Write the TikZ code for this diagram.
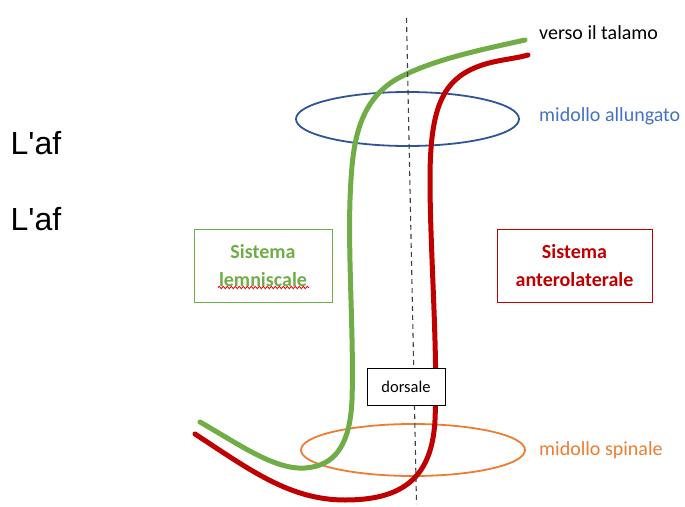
\documentclass[tikz,border=0pt]{standalone}
\usepackage{fontspec}
\setmainfont{Carlito}
\newfontfamily\arialf{Liberation Sans}
\usetikzlibrary{decorations.pathmorphing}
\definecolor{cgreen}{HTML}{70AD47}
\definecolor{cred}{HTML}{C00000}
\definecolor{cblue}{HTML}{4472C4}
\definecolor{cdblue}{HTML}{2F5597}
\definecolor{corange}{HTML}{ED7D31}
\definecolor{cgray}{HTML}{404040}
\tikzset{
  tract/.style={line width=5pt, line cap=round},
  ring/.style={line width=1.8pt},
  lbl/.style={anchor=west, inner sep=0pt, font=\fontsize{20}{24}\selectfont},
  sysbox/.style={draw, line width=1pt, minimum width=#1, minimum height=73pt, align=center, font=\fontsize{20}{28}\selectfont\bfseries},
  bigtxt/.style={anchor=west, inner sep=0pt, font=\arialf\fontsize{32}{36}\selectfont},
}
\begin{document}
\begin{tikzpicture}[x=1pt,y=-1pt]
\useasboundingbox (0,0) rectangle (685,506);
% left clipped text
\begin{scope}
\clip (0,100) rectangle (62,250);
\node[bigtxt] (af1) at (10.5,143) {L'af};
\node[bigtxt] (af2) at (10.5,219) {L'af};
\end{scope}
% rings
\draw[ring, cdblue] (407.5,119) ellipse [x radius=111.5, y radius=27];
\draw[ring, corange] (413,450) ellipse [x radius=112, y radius=26];
% tracts
\draw[tract, cgreen] (200,422) .. controls (240,445) and (275,470) .. (305,468)
  .. controls (335,466) and (350,445) .. (352,400)
  .. controls (354,340) and (348,260) .. (350,200)
  .. controls (352,150) and (355,105) .. (395,80)
  .. controls (430,60) and (480,50) .. (525,40);
\draw[tract, cred] (195,434) .. controls (250,470) and (290,500) .. (345,500)
  .. controls (400,500) and (432,480) .. (435,420)
  .. controls (438,350) and (430,250) .. (430,180)
  .. controls (430,115) and (440,85) .. (470,70)
  .. controls (490,60) and (510,60) .. (528,55);
% dashed axis
\coordinate (dtop) at (406.5,18);
\coordinate (dbot) at (416.5,504);
\draw[cgray, line width=1.1pt, dash pattern=on 5pt off 4pt] (dtop) -- (dbot);
% boxes
\node[sysbox=138pt, cgreen, text=cgreen] (lem) at (263,265.5) {Sistema\\lemniscale};
\draw[red!90!black, line width=0.8pt, decorate, decoration={snake, amplitude=1.2pt, segment length=4pt}] (218,287.5) -- (309,287.5);
\node[sysbox=155pt, cred, text=cred] (ant) at (574.5,265.5) {Sistema\\anterolaterale};
\node[draw=black, fill=white, line width=1pt, minimum width=78pt, minimum height=37pt, font=\fontsize{16.5}{20}\selectfont] (dor) at (406,386.5) {dorsale};
% labels
\node[lbl, text=black] (tal) at (539,33) {verso il talamo};
\node[lbl, text=cblue] (all) at (539,116) {midollo allungato};
\node[lbl, text=corange] (spi) at (539,450) {midollo spinale};
\end{tikzpicture}
\end{document}
